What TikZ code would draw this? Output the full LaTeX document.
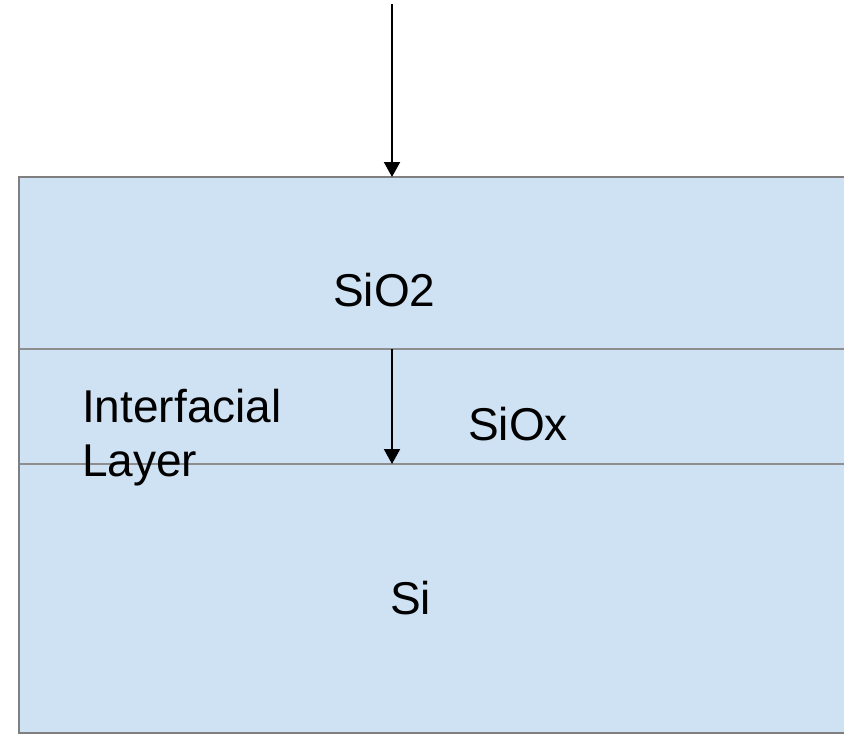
\documentclass[tikz,border=0pt]{standalone}
\usepackage{fontspec}
\setmainfont{Liberation Sans}
\usetikzlibrary{arrows.meta}
\definecolor{layerfill}{HTML}{CFE2F3}
\definecolor{edgegray}{HTML}{7F7F7F}
\definecolor{ifgray}{HTML}{8E8E8E}
\tikzset{
  layer/.style={fill=layerfill},
  edge/.style={draw=edgegray, line width=2.2pt},
  iface/.style={draw=ifgray, line width=1.6pt},
  beam/.style={draw=black, line width=2pt, -{Triangle[length=15pt,width=16pt]}},
  lbl/.style={inner sep=0pt, anchor=base west, font=\fontsize{46}{53.5}\selectfont, align=left}
}
\begin{document}
\begin{tikzpicture}[x=1pt,y=-1pt]
\useasboundingbox (0,0) rectangle (844,734);
\fill[layer] (19,177) rectangle (844,733);
\draw[iface] (19,349) -- (844,349);
\draw[iface] (19,464) -- (844,464);
\draw[edge] (844,177) -- (19,177) -- (19,733) -- (844,733);
\coordinate (src) at (392,4);
\coordinate (surf) at (392,177);
\coordinate (ifa) at (392,349);
\coordinate (ifb) at (392,464);
\draw[beam] (src) -- (surf);
\draw[beam] (ifa) -- (ifb);
\node[lbl] (sio2) at (333,306) {SiO2};
\node[lbl] (ilayer) at (82,476) {Interfacial\\Layer};
\node[lbl] (siox) at (468,440) {SiOx};
\node[lbl] (si) at (390,614) {Si};
\end{tikzpicture}
\end{document}
